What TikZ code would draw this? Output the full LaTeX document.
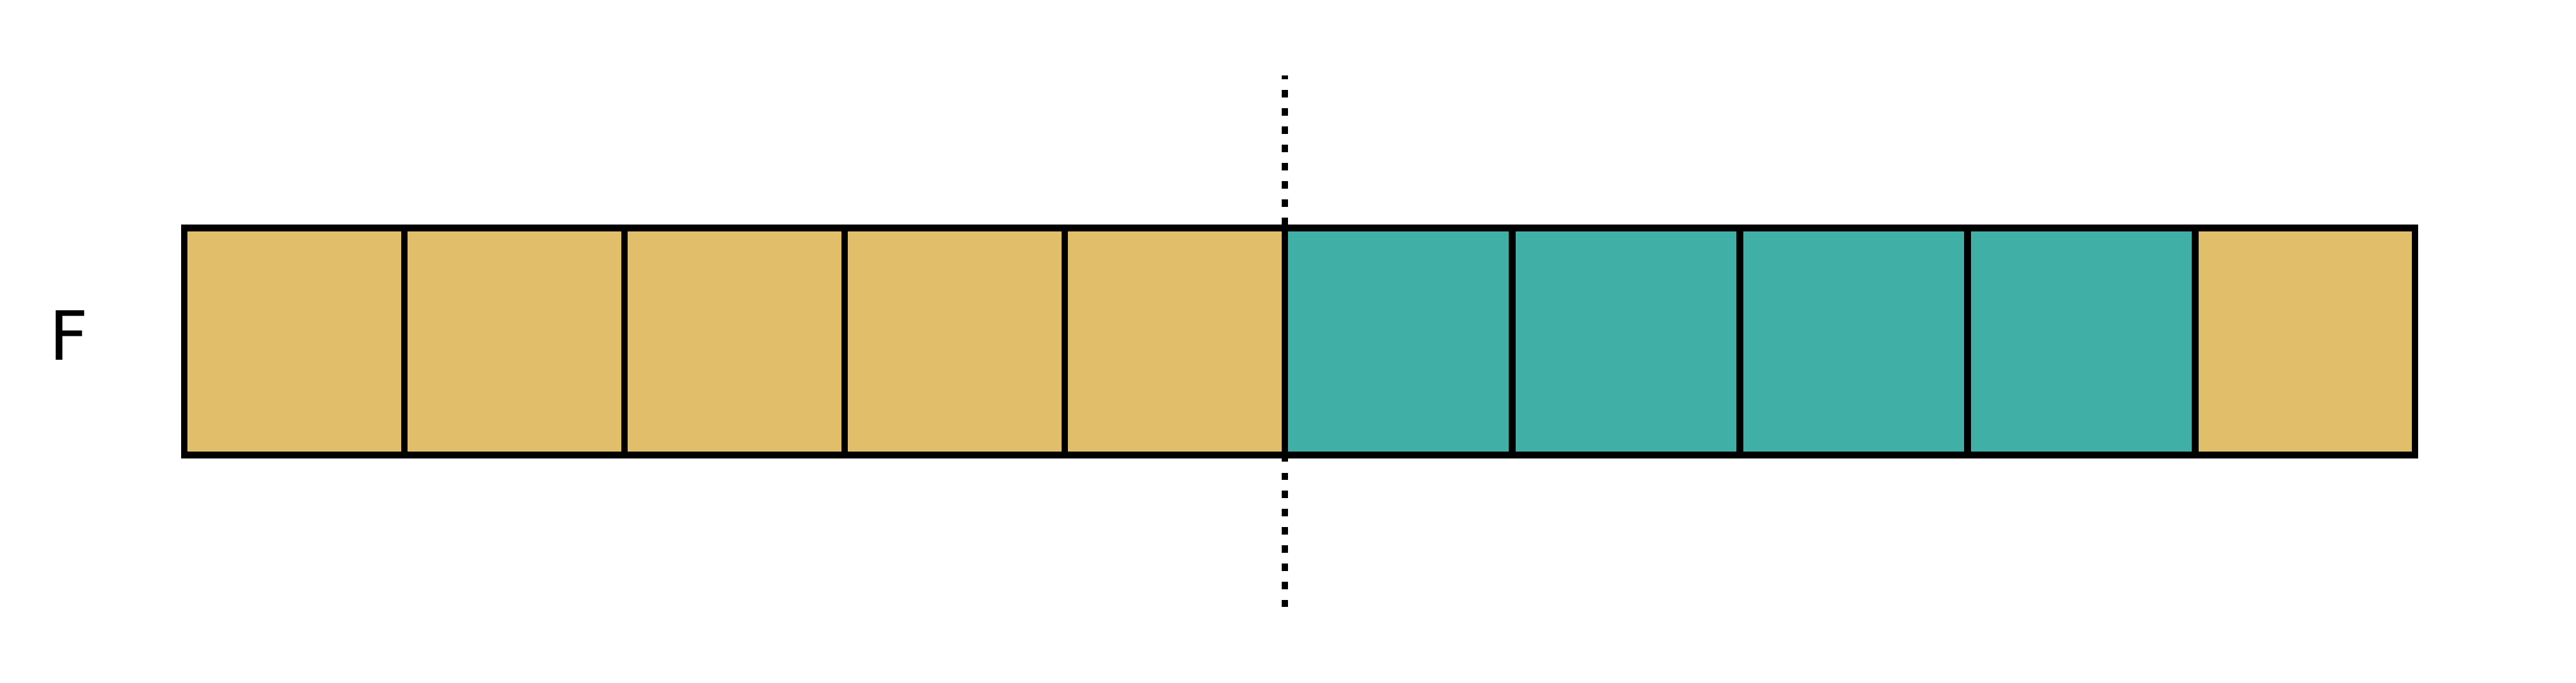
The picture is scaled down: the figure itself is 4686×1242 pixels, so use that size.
\documentclass[tikz,border=0pt]{standalone}
\usepackage{fontspec}
\setmainfont{DejaVu Sans}
\definecolor{cyel}{HTML}{E1BE6A}
\definecolor{cteal}{HTML}{40B0A6}
\begin{document}
\begin{tikzpicture}[x=0.1pt,y=-0.1pt,
  cell/.style={draw=black, line width=1.2pt, inner sep=0pt, outer sep=0pt, minimum height=41.3pt},
  ycell/.style={cell, fill=cyel, minimum width=40.04pt},
  tcell/.style={cell, fill=cteal, minimum width=41.4pt},
  splitline/.style={line width=1.2pt, dash pattern=on 1.3pt off 2.013pt, dash phase=0.6pt}]
\useasboundingbox (0,0) rectangle (4686,1242);
\coordinate (dtop) at (2337,137);
\coordinate (dbot) at (2337,1104);
\draw[splitline] (dtop) -- (dbot);
\node[ycell] (y1) at (535.2,621.5) {};
\node[ycell] (y2) at (935.6,621.5) {};
\node[ycell] (y3) at (1336,621.5) {};
\node[ycell] (y4) at (1736.4,621.5) {};
\node[ycell] (y5) at (2136.8,621.5) {};
\node[tcell] (t1) at (2544,621.5) {};
\node[tcell] (t2) at (2958,621.5) {};
\node[tcell] (t3) at (3372,621.5) {};
\node[tcell] (t4) at (3786,621.5) {};
\node[ycell, minimum width=40pt] (y6) at (4193,621.5) {};
\node[inner sep=0pt, font=\fontsize{12.35pt}{14pt}\selectfont] (lbl) at (125.5,610) {F};
\end{tikzpicture}
\end{document}
